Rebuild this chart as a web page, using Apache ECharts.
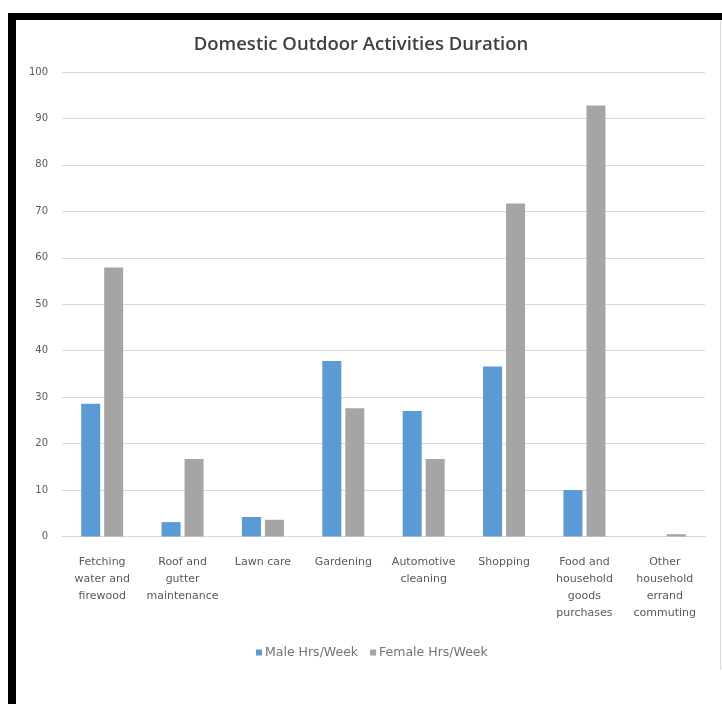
<!DOCTYPE html>
<html>
<head>
<meta charset="utf-8">
<script src="https://cdn.jsdelivr.net/npm/echarts@6/dist/echarts.min.js"></script>
<style>
html,body{margin:0;padding:0;background:#fff;}
#chart{width:722px;height:704px;}
</style>
</head>
<body>
<div id="chart"></div>
<script>
const categories = [
  "Fetching\nwater and\nfirewood",
  "Roof and\ngutter\nmaintenance",
  "Lawn care",
  "Gardening",
  "Automotive\ncleaning",
  "Shopping",
  "Food and\nhousehold\ngoods\npurchases",
  "Other\nhousehold\nerrand\ncommuting"
];
const maleHrs = [28.6, 3.1, 4.2, 37.8, 27.0, 36.6, 10.0, 0];
const femaleHrs = [57.9, 16.7, 3.6, 27.6, 16.7, 71.7, 92.8, 0.5];
const seriesNames = ["Male Hrs/Week", "Female Hrs/Week"];
const yTicks = { min: 0, max: 100, interval: 10 };

const TITLE_FONT = "Open Sans";
const FONT = "DejaVu Sans";
const TXT = "#595959";
const chart = echarts.init(document.getElementById('chart'));
chart.setOption({
  animation: false,
  backgroundColor: '#fff',
  title: {
    text: "Domestic Outdoor Activities Duration",
    left: 'center',
    top: 30,
    textStyle: { fontFamily: TITLE_FONT, fontSize: 18.5, fontWeight: 600, color: '#404040' }
  },
  legend: {
    top: 641,
    left: 251,
    itemWidth: 6,
    itemHeight: 6,
    itemGap: 12,
    icon: 'rect',
    textStyle: { fontFamily: FONT, fontSize: 12.5, color: '#737373', padding: [0, 0, 0, -2] }
  },
  grid: { left: 62, right: 17, top: 72, bottom: 167.5, containLabel: false },
  xAxis: {
    type: 'category',
    data: categories,
    axisLine: { show: true, lineStyle: { color: '#D9D9D9', width: 1 } },
    axisTick: { show: false },
    axisLabel: { fontFamily: FONT, fontSize: 11, color: TXT, margin: 17, lineHeight: 17, interval: 0 }
  },
  yAxis: {
    type: 'value',
    min: yTicks.min, max: yTicks.max, interval: yTicks.interval,
    axisLine: { show: false },
    axisTick: { show: false },
    axisLabel: { fontFamily: FONT, fontSize: 10, color: TXT, margin: 14 },
    splitLine: { lineStyle: { color: '#D9D9D9', width: 1 } }
  },
  series: [
    { name: seriesNames[0], type: 'bar', data: maleHrs, barWidth: 19, barGap: '21%', itemStyle: { color: '#5B9BD5' } },
    { name: seriesNames[1], type: 'bar', data: femaleHrs, barWidth: 19, itemStyle: { color: '#A5A5A5' } }
  ],
  graphic: [
    { type: 'rect', shape: { x: 8, y: 13, width: 714, height: 7 }, style: { fill: '#000' }, silent: true },
    { type: 'rect', shape: { x: 8, y: 13, width: 8, height: 691 }, style: { fill: '#000' }, silent: true },
    { type: 'line', shape: { x1: 720.5, y1: 20, x2: 720.5, y2: 670 }, style: { stroke: '#D9D9D9', lineWidth: 1 }, silent: true }
  ]
});
</script>
</body>
</html>
